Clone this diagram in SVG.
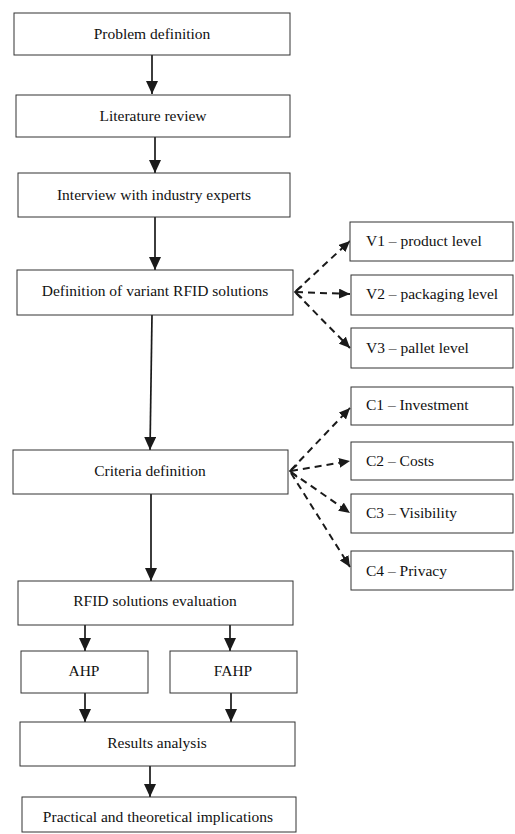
<svg xmlns="http://www.w3.org/2000/svg" width="515" height="834" viewBox="0 0 515 834">
<defs>
<style>
.box{fill:#fff;stroke:#333;stroke-width:1}
.t{font-family:"Liberation Serif","Times New Roman",serif;font-size:15.5px;fill:#111}
.c{text-anchor:middle}
.solid{stroke:#1a1a1a;stroke-width:1.7;fill:none}
.dash{stroke:#1a1a1a;stroke-width:2;fill:none;stroke-dasharray:7 5}
</style>
<marker id="ah" viewBox="0 0 13 12" markerUnits="userSpaceOnUse" markerWidth="13" markerHeight="12" refX="13" refY="6" orient="auto">
<path d="M0,0 L13,6 L0,12 z" fill="#1a1a1a"/>
</marker>
<marker id="dh" viewBox="0 0 11 10" markerUnits="userSpaceOnUse" markerWidth="11" markerHeight="10" refX="11" refY="5" orient="auto">
<path d="M0,0 L11,5 L0,10 z" fill="#1a1a1a"/>
</marker>
</defs>
<rect width="515" height="834" fill="#fff"/>

<g id="connectors">
<line class="solid" x1="152" y1="55" x2="152" y2="94" marker-end="url(#ah)"/>
<line class="solid" x1="155" y1="137" x2="155" y2="173" marker-end="url(#ah)"/>
<line class="solid" x1="155" y1="217" x2="155" y2="270" marker-end="url(#ah)"/>
<line class="solid" x1="152" y1="315" x2="150" y2="450" marker-end="url(#ah)"/>
<line class="solid" x1="151" y1="494" x2="151" y2="581" marker-end="url(#ah)"/>
<line class="solid" x1="85" y1="625" x2="85" y2="651" marker-end="url(#ah)"/>
<line class="solid" x1="230" y1="625" x2="230" y2="651" marker-end="url(#ah)"/>
<line class="solid" x1="85" y1="693" x2="85" y2="722" marker-end="url(#ah)"/>
<line class="solid" x1="231" y1="693" x2="231" y2="722" marker-end="url(#ah)"/>
<line class="solid" x1="150" y1="766" x2="150" y2="797" marker-end="url(#ah)"/>

<line class="dash" x1="296" y1="291" x2="350" y2="241" marker-end="url(#dh)"/>
<line class="dash" x1="296" y1="292" x2="350" y2="294" marker-end="url(#dh)"/>
<line class="dash" x1="296" y1="293" x2="350" y2="348" marker-end="url(#dh)"/>
<path class="solid" d="M302,286 L295,292 L302,298" stroke-width="1.4"/>

<line class="dash" x1="291" y1="470" x2="350" y2="408" marker-end="url(#dh)"/>
<line class="dash" x1="291" y1="471" x2="350" y2="461" marker-end="url(#dh)"/>
<line class="dash" x1="291" y1="472" x2="350" y2="513" marker-end="url(#dh)"/>
<line class="dash" x1="291" y1="473" x2="350" y2="567" marker-end="url(#dh)"/>
<path class="solid" d="M297,465 L290,471 L297,477" stroke-width="1.4"/>
</g>

<g id="n-problem"><rect class="box" x="14" y="13" width="276" height="42"/><text class="t c" x="152" y="39">Problem definition</text></g>
<g id="n-literature"><rect class="box" x="16" y="95" width="274" height="42"/><text class="t c" x="153" y="121">Literature review</text></g>
<g id="n-interview"><rect class="box" x="18" y="173" width="272" height="44"/><text class="t c" x="154" y="200">Interview with industry experts</text></g>
<g id="n-definition"><rect class="box" x="17" y="270" width="276" height="45"/><text class="t c" x="155" y="296">Definition of variant RFID solutions</text></g>
<g id="n-criteria"><rect class="box" x="13" y="450" width="275" height="44"/><text class="t c" x="150" y="476">Criteria definition</text></g>
<g id="n-evaluation"><rect class="box" x="18" y="581" width="275" height="44"/><text class="t c" x="155" y="606">RFID solutions evaluation</text></g>
<g id="n-ahp"><rect class="box" x="21" y="651" width="127" height="42"/><text class="t c" x="84" y="676">AHP</text></g>
<g id="n-fahp"><rect class="box" x="170" y="651" width="127" height="42"/><text class="t c" x="233" y="676">FAHP</text></g>
<g id="n-results"><rect class="box" x="20" y="722" width="275" height="44"/><text class="t c" x="157" y="748">Results analysis</text></g>
<g id="n-practical"><rect class="box" x="22" y="797" width="274" height="35"/><text class="t c" x="158" y="822">Practical and theoretical implications</text></g>

<g id="n-v1"><rect class="box" x="350" y="222" width="163" height="39"/><text class="t" x="366" y="246">V1 – product level</text></g>
<g id="n-v2"><rect class="box" x="351" y="275" width="162" height="40"/><text class="t" x="366" y="299">V2 – packaging level</text></g>
<g id="n-v3"><rect class="box" x="351" y="328" width="162" height="40"/><text class="t" x="366" y="353">V3 – pallet level</text></g>
<g id="n-c1"><rect class="box" x="351" y="387" width="162" height="38"/><text class="t" x="366" y="410">C1 – Investment</text></g>
<g id="n-c2"><rect class="box" x="351" y="442" width="162" height="38"/><text class="t" x="366" y="466">C2 – Costs</text></g>
<g id="n-c3"><rect class="box" x="351" y="494" width="162" height="39"/><text class="t" x="366" y="518">C3 – Visibility</text></g>
<g id="n-c4"><rect class="box" x="351" y="551" width="162" height="39"/><text class="t" x="366" y="576">C4 – Privacy</text></g>
</svg>
